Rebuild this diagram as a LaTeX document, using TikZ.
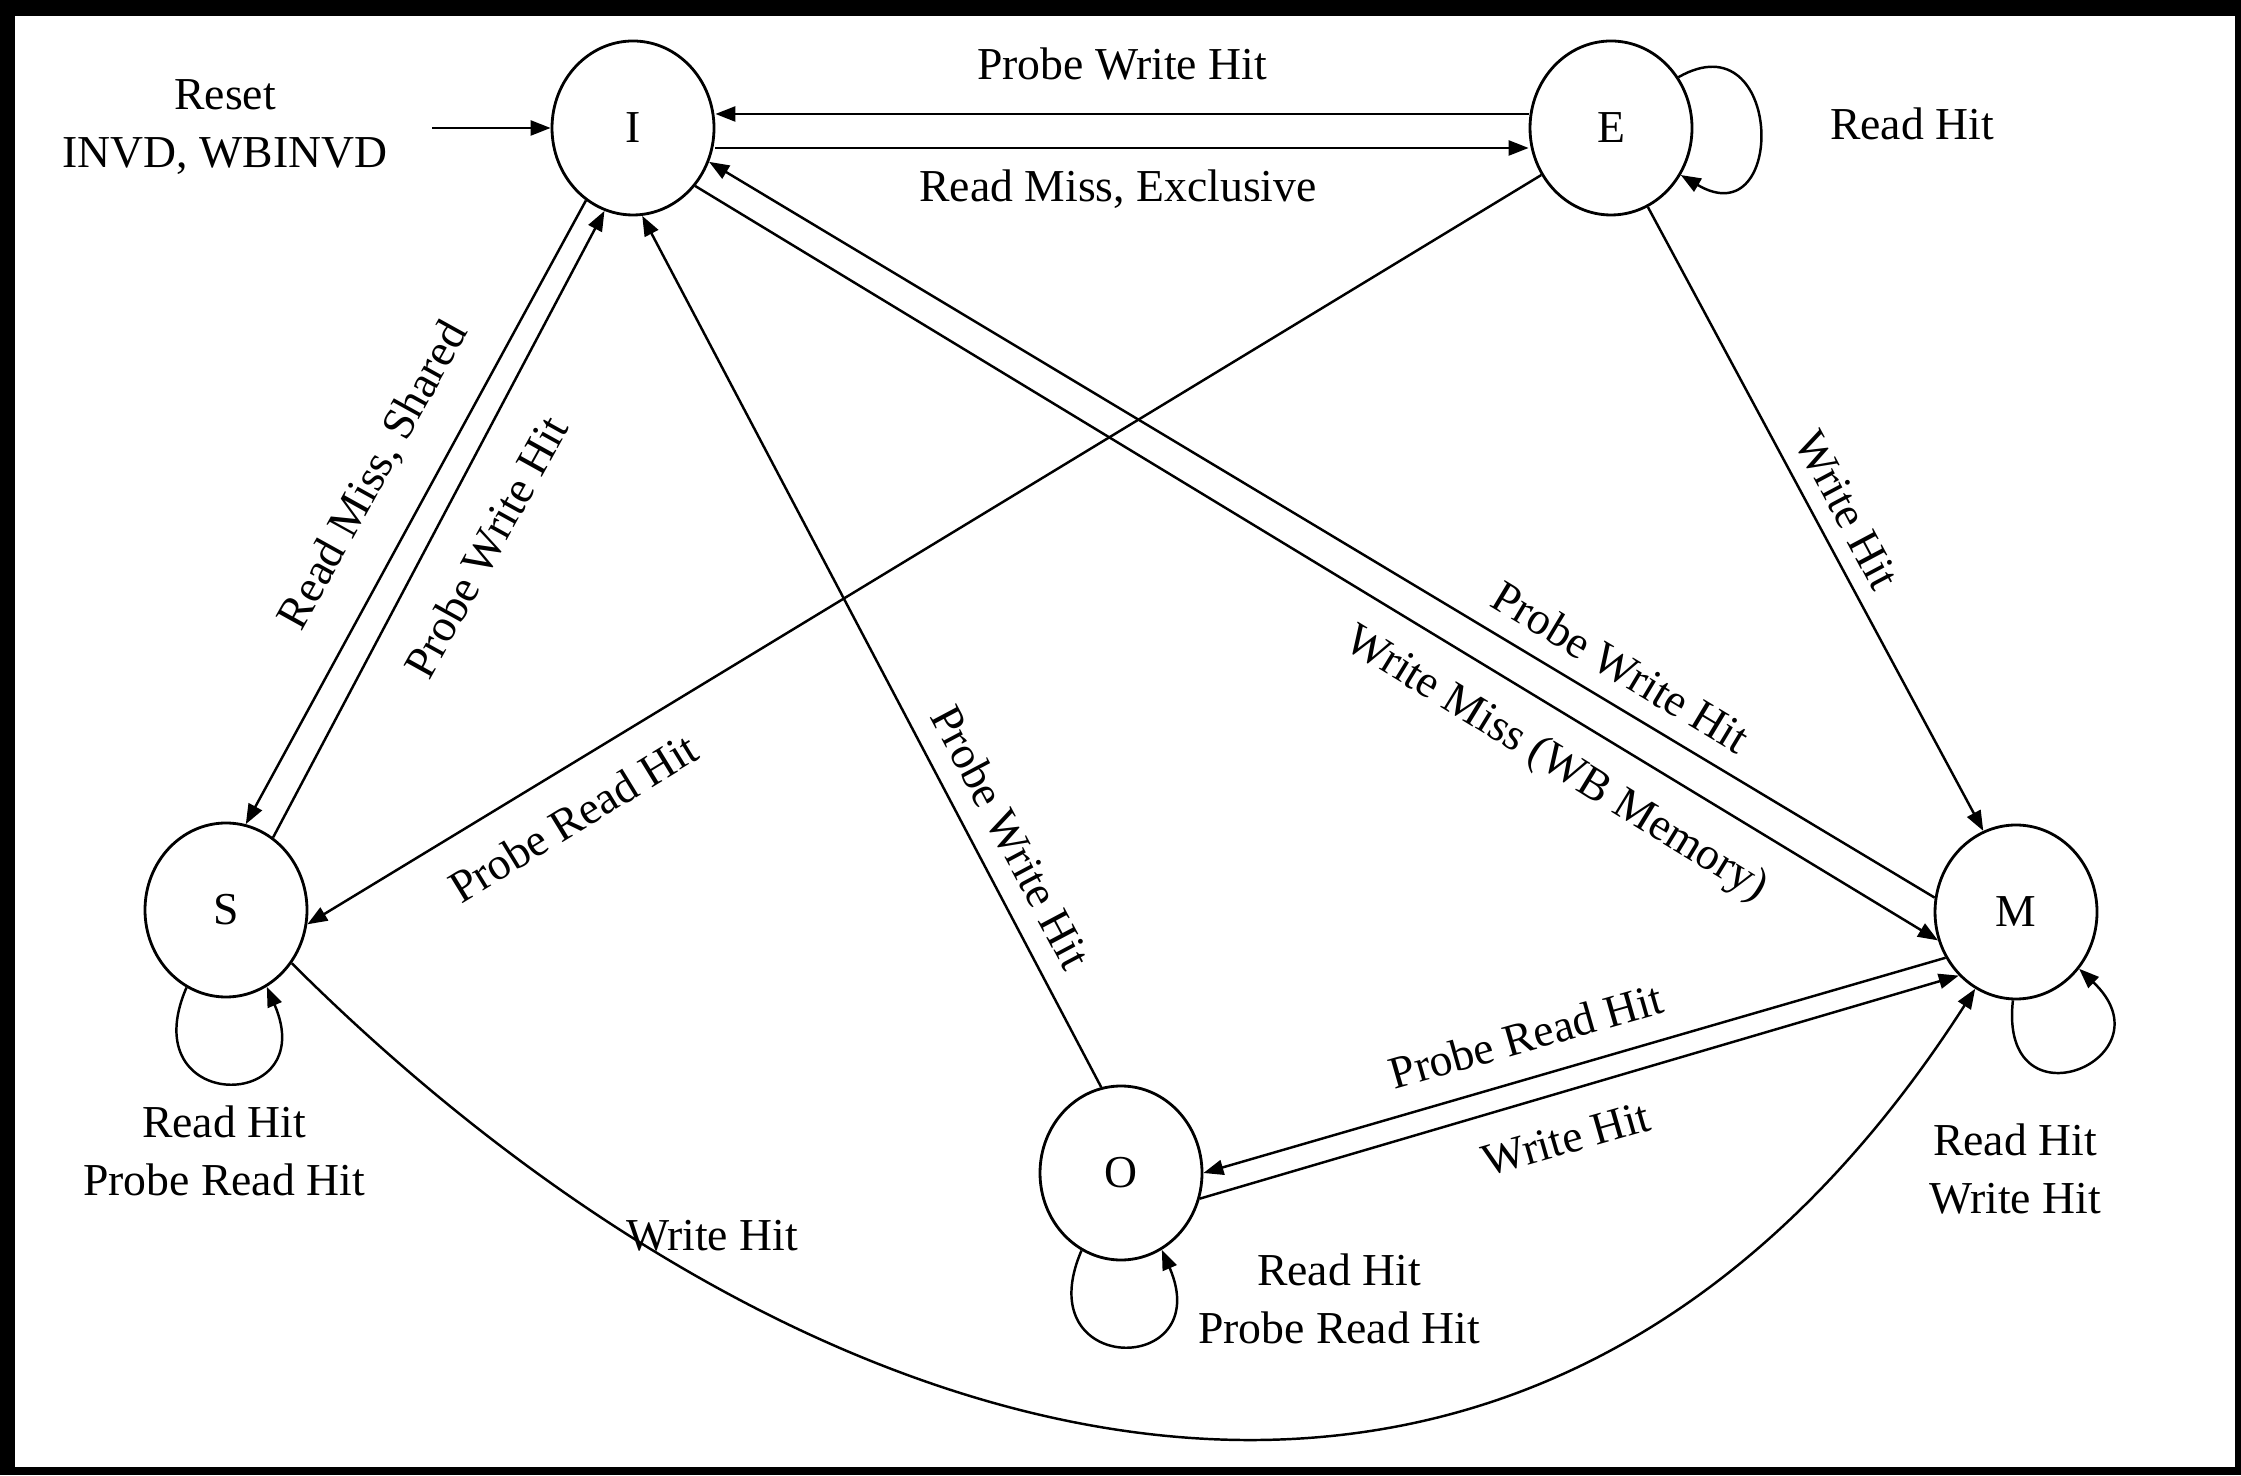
\documentclass[tikz,border=0pt]{standalone}
\usepackage{fontspec}
\setmainfont{Liberation Serif}
\usetikzlibrary{arrows.meta,shapes.geometric}

\begin{document}
\begin{tikzpicture}[
    cstate/.style={ellipse,draw,line width=0.8pt,minimum width=1.62cm,minimum height=1.74cm,
      inner sep=0pt,font=\fontsize{13}{16}\selectfont},
    lbl/.style={font=\fontsize{13}{16.5}\selectfont,align=center,inner sep=1pt},
    trans/.style={line width=0.7pt,-{Triangle[length=2mm,width=1.5mm]}}
  ]
    % frame
    \fill[black] (0,0) rectangle (22.41,14.75);
    \fill[white] (0.15,0.08) rectangle (22.35,14.59);
    \useasboundingbox (0,0) rectangle (22.41,14.75);
    % states
    \node[cstate] (I) at (6.33,13.47) {I};
    \node[cstate] (E) at (16.11,13.47) {E};
    \node[cstate] (S) at (2.26,5.65) {S};
    \node[cstate] (M) at (20.16,5.63) {M};
    \node[cstate] (O) at (11.21,3.02) {O};
    % reset
    \node[lbl] (reset) at (2.25,13.48) {Reset\\INVD, WBINVD};
    \coordinate (rst) at (4.32,13.47);
    \draw[trans] (rst) -- (I);
    % I <-> E
    \draw[trans] ([yshift=1.4mm]E.west) -- ([yshift=1.4mm]I.east);
    \draw[trans] ([yshift=-2mm]I.east) -- ([yshift=-2mm]E.west);
    % straight transitions
    \foreach \a/\b in {I.237/S.77,S.57/I.251,O.103/I.276,I.317/M.200,M.170/I.336,
        E.214/S.350,E.295/M.112,M.213/O.0,O.342/M.228}
      \draw[trans] (\a) -- (\b);
    \draw[trans] (S.321) .. controls (7.95,0.10) and (15.17,-2.28) .. (M.242);
    % self loops
    \draw[trans] (E.37) .. controls +(1.05,0.6) and +(1.07,-0.63) .. (E.326);
    \foreach \s in {S,O}
      \draw[trans] (\s.243) .. controls +(-0.55,-1.27) and +(0.55,-1.27) .. (\s.298);
    \draw[trans] (M.268) .. controls +(-0.15,-1.32) and +(0.95,-0.9) .. (M.318);
    % labels
    \node[lbl] (tPWH1) at (11.22,14.11) {Probe Write Hit};
    \node[lbl] (tRME) at (11.18,12.86) {Read Miss, Exclusive};
    \node[lbl] (tRHE) at (19.12,13.51) {Read Hit};
    \node[lbl,rotate=61] (tRMS) at (3.74,9.99) {Read Miss, Shared};
    \node[lbl,rotate=61] (tPWH2) at (4.86,9.28) {Probe Write Hit};
    \node[lbl,rotate=-62] (tPWH3) at (10.11,6.38) {Probe Write Hit};
    \node[lbl,rotate=31.5] (tPRH1) at (5.73,6.57) {Probe Read Hit};
    \node[lbl,rotate=-31] (tPWH4) at (16.21,8.08) {Probe Write Hit};
    \node[lbl,rotate=-31.5] (tWM) at (15.56,7.10) {Write Miss (WB Memory)};
    \node[lbl,rotate=-62] (tWH1) at (18.47,9.65) {Write Hit};
    \node[lbl,rotate=16] (tPRH2) at (15.26,4.39) {Probe Read Hit};
    \node[lbl,rotate=16] (tWH2) at (15.66,3.36) {Write Hit};
    \node[lbl] (tWH3) at (7.12,2.39) {Write Hit};
    \node[lbl] (tS) at (2.24,3.24) {Read Hit\\Probe Read Hit};
    \node[lbl] (tO) at (13.39,1.76) {Read Hit\\Probe Read Hit};
    \node[lbl] (tM) at (20.15,3.06) {Read Hit\\Write Hit};
\end{tikzpicture}
\end{document}
